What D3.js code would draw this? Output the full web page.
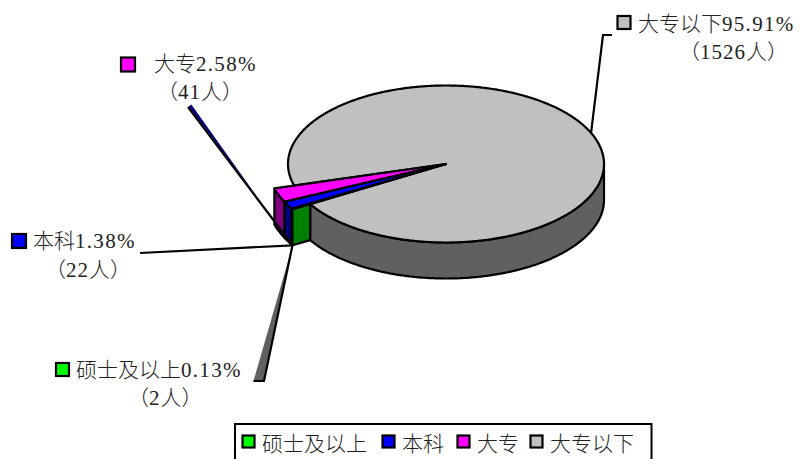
<!DOCTYPE html>
<html>
<head>
<meta charset="utf-8">
<script src="https://cdn.jsdelivr.net/npm/d3@7/dist/d3.min.js"></script>
<style>
  html, body { margin: 0; padding: 0; background: #fff; }
  svg { display: block; }
  text { font-family: "Liberation Serif", "Noto Sans CJK SC", serif; font-weight: 300; fill: #222; }
</style>
</head>
<body>
<svg id="chart" width="800" height="459"></svg>
<script>
// Education levels and head counts
const categories = ["硕士及以上", "本科", "大专", "大专以下"];
const counts = [2, 22, 41, 1526];
const topColors = ["#00FF00", "#0000FF", "#FF00FF", "#C0C0C0"];
const sideColors = ["#008000", "#000080", "#800080", "#606060"];

const total = d3.sum(counts);
const pctText = counts.map(c => (c / total * 100).toFixed(2) + "%");

// 3D pie geometry
const cx = 446, cy = 164, rx = 158, ry = 78.5, depth = 36, explode = 1.13;
const rot = 239.3 * Math.PI / 180;

const svg = d3.select("#chart");
const xs = d3.scaleLinear().domain([-1, 1]).range([cx - rx, cx + rx]);
const ys = d3.scaleLinear().domain([-1, 1]).range([cy - ry, cy + ry]);
const P = (r, a, z = 0) => [xs(r * Math.sin(a)), ys(-r * Math.cos(a)) + z];
const arcPts = (r, a0, a1, z = 0) => {
  const n = Math.max(2, Math.ceil(Math.abs(a1 - a0) / 0.01));
  return d3.range(n + 1).map(i => P(r, a0 + (a1 - a0) * i / n, z));
};
const poly = pts => d3.line()(pts) + "Z";

const arcs = d3.pie().sort(null).value(d => d).startAngle(rot).endAngle(rot + 2 * Math.PI)(counts);

const g = svg.append("g")
  .attr("stroke", "#000").attr("stroke-width", 2.2).attr("stroke-linejoin", "round");

// Large slice: front side wall, then top face
const big = arcs[3];
const frontStart = Math.max(big.startAngle, 2 * Math.PI + Math.PI / 2);
g.append("path")
  .attr("d", poly(arcPts(1, frontStart, big.endAngle).concat(arcPts(1, big.endAngle, frontStart, depth))))
  .attr("fill", sideColors[3]);
g.append("path")
  .attr("d", poly([P(0, 0)].concat(arcPts(1, big.startAngle, big.endAngle))))
  .attr("fill", topColors[3]);

// Small exploded slices: outer walls, cut face, then top faces
const small = arcs.slice(0, 3);
[2, 1, 0].forEach(i => {
  const a = small[i];
  g.append("path")
    .attr("d", poly(arcPts(explode, a.startAngle, a.endAngle).concat(arcPts(explode, a.endAngle, a.startAngle, depth))))
    .attr("fill", sideColors[i]);
});
g.append("path")
  .attr("d", poly([P(1, rot), P(explode, rot), P(explode, rot, depth), P(1, rot, depth)]))
  .attr("fill", sideColors[0]);
[2, 1, 0].forEach(i => {
  const a = small[i];
  g.append("path")
    .attr("d", poly([P(0, 0)].concat(arcPts(explode, a.startAngle, a.endAngle))))
    .attr("fill", topColors[i]);
});

// Leader lines
const anchor = P(explode, rot, depth);
const lead = svg.append("g").attr("stroke", "#000").attr("stroke-width", 2.2).attr("fill", "none")
  .attr("stroke-linejoin", "miter");
const bigMid = (big.startAngle + big.endAngle) / 2;
lead.append("path").attr("d", d3.line()([P(1, bigMid), [603, 35], [612, 35]]));
lead.append("path").attr("d", d3.line()([[140, 253], anchor]));

// 大专 leader with a shaded edge along its upper side
const s0 = [188, 107];
const len = Math.hypot(anchor[0] - s0[0], anchor[1] - s0[1]);
const dir = [(anchor[0] - s0[0]) / len, (anchor[1] - s0[1]) / len];
const nrm = [dir[1], -dir[0]];
const along = (t, o) => [s0[0] + dir[0] * t + nrm[0] * o, s0[1] + dir[1] * t + nrm[1] * o];
lead.append("path").attr("d", poly([along(0, 0.8), along(0, 4.2), along(118, 0.8)]))
  .attr("fill", sideColors[1]).attr("stroke", "none");
lead.append("path").attr("d", d3.line()([s0, anchor]));

// 硕士及以上 leader with its shaded edge
lead.append("path").attr("d", poly([[anchor[0] - 1, anchor[1] + 4], [264, 381], [253.5, 381]]))
  .attr("fill", sideColors[3]).attr("stroke", "none");
lead.append("path").attr("d", d3.line()([anchor, [264, 381], [253.5, 381]]));

// Data labels
const labelPos = [
  { key: [56, 363], size: 13, x1: 76, b1: 377, x2: 128, b2: 405 },
  { key: [12, 234], size: 14, x1: 33, b1: 248, x2: 45, b2: 277 },
  { key: [121, 57.5], size: 14, x1: 154, b1: 71, x2: 157, b2: 99 },
  { key: [617.5, 16], size: 13, x1: 638, b1: 31, x2: 679, b2: 59 }
];
const fs = 21;
categories.forEach((c, i) => {
  const L = labelPos[i];
  svg.append("rect").attr("x", L.key[0]).attr("y", L.key[1])
    .attr("width", L.size).attr("height", L.size)
    .attr("fill", topColors[i]).attr("stroke", "#000").attr("stroke-width", 2.2);
  const t1 = svg.append("text").attr("x", L.x1).attr("y", L.b1).attr("font-size", fs);
  t1.append("tspan").text(c);
  t1.append("tspan").attr("letter-spacing", 1.3).text(pctText[i]);
  const t2 = svg.append("text").attr("x", L.x2).attr("y", L.b2).attr("font-size", fs);
  t2.append("tspan").text("（");
  t2.append("tspan").attr("letter-spacing", 1).text(counts[i]);
  t2.append("tspan").text("人）");
});

// Legend
svg.append("rect").attr("x", 235).attr("y", 424).attr("width", 416.5).attr("height", 50)
  .attr("fill", "#fff").attr("stroke", "#000").attr("stroke-width", 2);
const legendX = [242.5, 382.5, 457.5, 530.5];
categories.forEach((c, i) => {
  svg.append("rect").attr("x", legendX[i]).attr("y", 435.5).attr("width", 12).attr("height", 12)
    .attr("fill", topColors[i]).attr("stroke", "#000").attr("stroke-width", 2.2);
  svg.append("text").attr("x", legendX[i] + 19.5).attr("y", 451).attr("font-size", fs).text(c);
});
</script>
</body>
</html>
